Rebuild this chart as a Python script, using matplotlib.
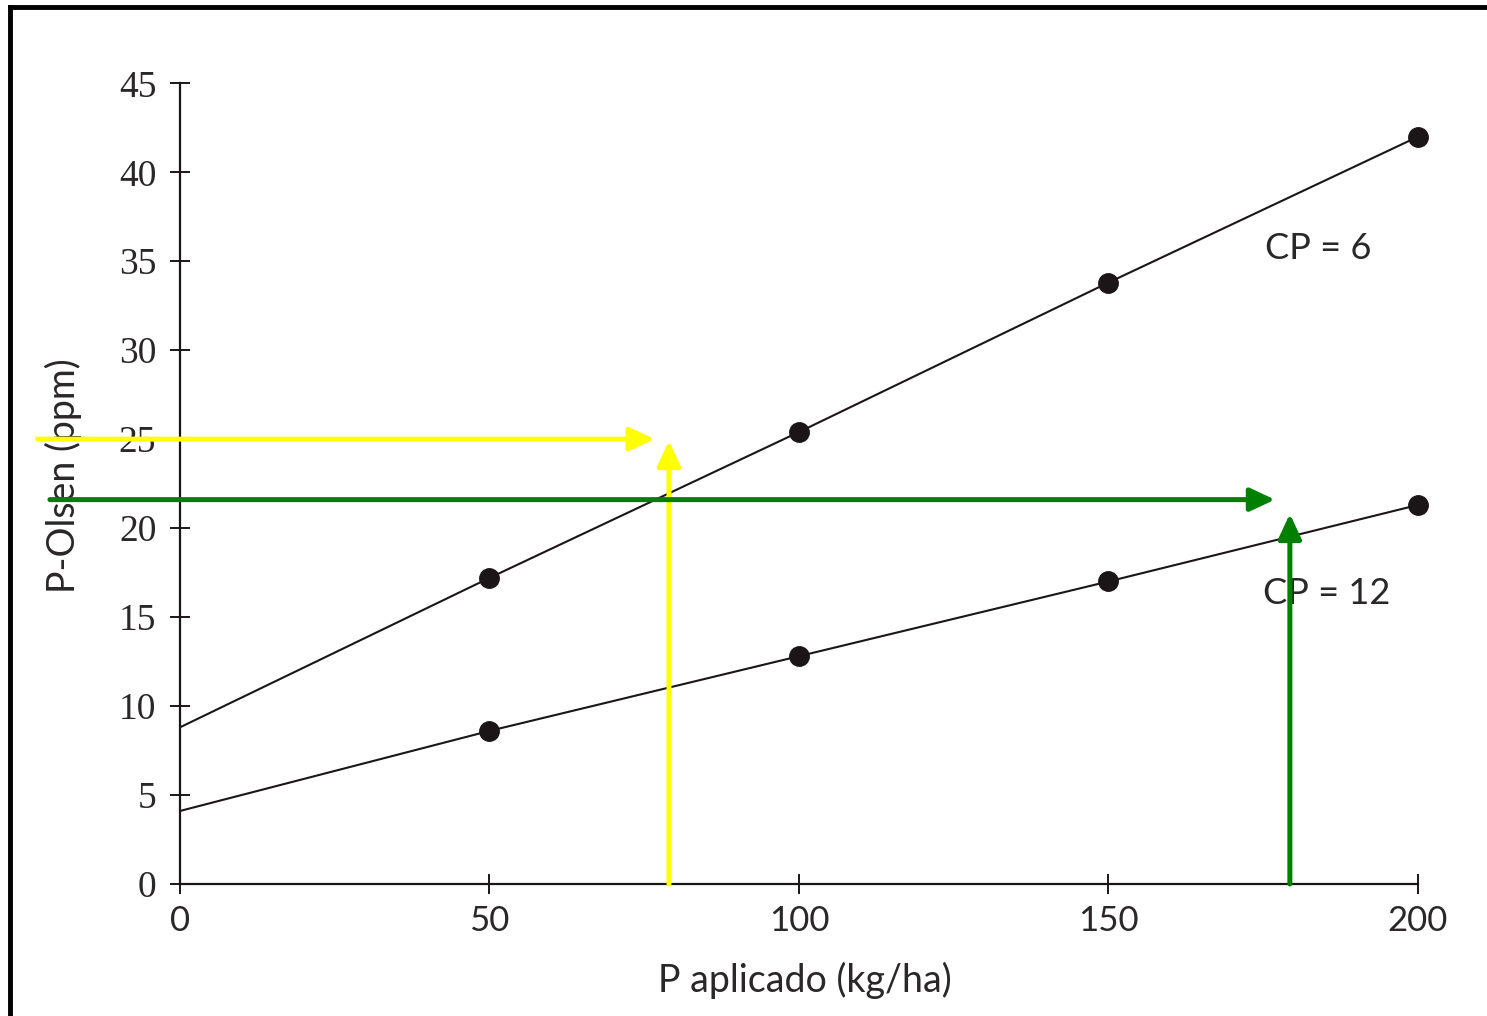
import matplotlib
matplotlib.use("Agg")
import matplotlib.pyplot as plt
from matplotlib.lines import Line2D

# P aplicado (kg/ha) and P-Olsen (ppm) for each CP curve
p_aplicado = [0, 50, 100, 150, 200]
olsen_cp6 = [8.8, 17.2, 25.4, 33.8, 42.0]
olsen_cp12 = [4.1, 8.6, 12.8, 17.0, 21.3]

x_ticks = [0, 50, 100, 150, 200]
y_ticks = [0, 5, 10, 15, 20, 25, 30, 35, 40, 45]

# reading guides drawn over the chart: (start, end) in data units
yellow_h = [(-23, 25.0), (76.7, 25.0)]
yellow_v = [(79, 0), (79, 24.9)]
green_h = [(-21, 21.6), (176.9, 21.6)]
green_v = [(179.3, 0), (179.3, 20.8)]

ink = "#1c1517"
txt = "#2b2628"
sans = ["Lato", "DejaVu Sans"]
serif = ["Liberation Serif", "DejaVu Serif"]

fig = plt.figure(figsize=(14.87, 10.16), dpi=100)
ax = fig.add_axes([0.121, 0.130, 0.8326, 0.788])

for ys in (olsen_cp6, olsen_cp12):
    ax.plot(p_aplicado, ys, color=ink, lw=1.5, solid_capstyle="butt", zorder=3)
    ax.plot(p_aplicado[1:], ys[1:], "o", color=ink, ms=14, zorder=4, clip_on=False)

ax.set_xlim(0, 200)
ax.set_ylim(0, 45)
for s in ("top", "right"):
    ax.spines[s].set_visible(False)
for s in ("left", "bottom"):
    ax.spines[s].set_color(ink)
    ax.spines[s].set_linewidth(1.6)

ax.set_xticks(x_ticks)
ax.set_yticks(y_ticks)
ax.tick_params(direction="inout", length=14, width=1.4, color=ink)
ax.tick_params(axis="y", pad=10)
ax.tick_params(axis="x", pad=8)
for lab in ax.get_yticklabels():
    lab.set_family(serif)
    lab.set_fontsize(27)
    lab.set_color(txt)
for lab in ax.get_xticklabels():
    lab.set_family(sans)
    lab.set_fontsize(25)
    lab.set_color(txt)

ax.set_xlabel("P aplicado (kg/ha)", family=sans, fontsize=27, color=txt)
ax.set_ylabel("P-Olsen (ppm)", family=sans, fontsize=27, color=txt)
ax.xaxis.set_label_coords(0.505, -0.097)
ax.yaxis.set_label_coords(-0.079, 0.51)

ax.text(175.3, 35.7, "CP = 6", family=sans, fontsize=26, color=txt, va="center")
ax.text(175.0, 16.3, "CP = 12", family=sans, fontsize=26, color=txt, va="center")

for seg, col in ((yellow_h, "#ffff00"), (yellow_v, "#ffff00"),
                 (green_h, "#008000"), (green_v, "#008000")):
    ax.annotate("", xy=seg[1], xytext=seg[0], annotation_clip=False,
                arrowprops=dict(arrowstyle="-|>,head_length=0.75,head_width=0.35",
                                color=col, lw=3.6, shrinkA=0, shrinkB=0,
                                mutation_scale=20),
                zorder=6)

# scanned page frame (top and left edges)
fig.add_artist(Line2D([0.0068, 1.0], [0.9936, 0.9936], color="black", lw=3.5))
fig.add_artist(Line2D([0.0068, 0.0068], [0.0, 0.9936], color="black", lw=3.5))

fig.savefig("out.png", dpi=100, facecolor="white")
